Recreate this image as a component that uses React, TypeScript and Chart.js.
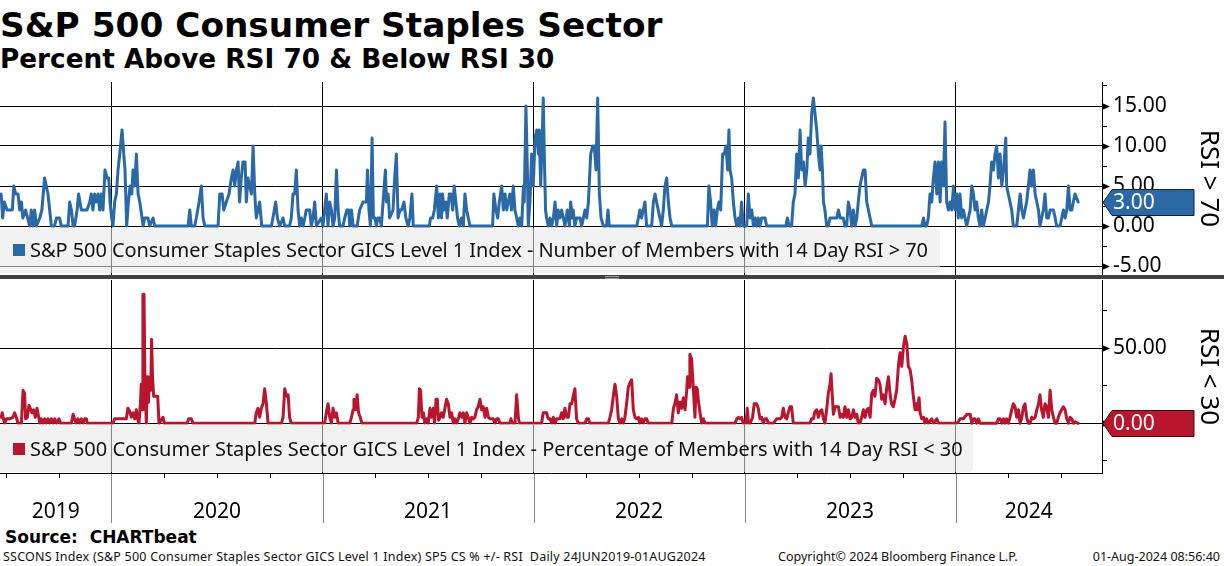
import React, { useEffect, useRef } from "react";
import { Chart, registerables } from "chart.js";

Chart.register(...registerables);

type Pt = [number, number];

// x is the date as a decimal year, y the reading
const above2019: Pt[] = [
  [2019.477, 4], [2019.484, 1], [2019.492, 3], [2019.505, 2], [2019.53, 2], [2019.537, 5], [2019.546, 4], [2019.557, 4],
  [2019.565, 2], [2019.573, 3], [2019.58, 1], [2019.593, 2], [2019.612, 0], [2019.62, 2], [2019.628, 0], [2019.636, 2],
  [2019.644, 0], [2019.66, 1], [2019.67, 2], [2019.683, 6], [2019.691, 5], [2019.699, 4], [2019.707, 2], [2019.715, 0],
  [2019.73, 0], [2019.739, 1], [2019.754, 1], [2019.762, 0], [2019.794, 0], [2019.802, 3], [2019.81, 2], [2019.818, 0],
  [2019.825, 0], [2019.837, 2], [2019.844, 4], [2019.857, 2], [2019.884, 2], [2019.897, 3], [2019.904, 4], [2019.912, 2],
  [2019.92, 4], [2019.928, 3], [2019.936, 4], [2019.944, 2], [2019.952, 4], [2019.96, 2], [2019.969, 7], [2019.979, 6],
  [2019.987, 6], [2019.993, 3],
];
const above2020: Pt[] = [
  [2020.001, 1], [2020.007, 0], [2020.015, 3], [2020.023, 4], [2020.031, 7], [2020.039, 9], [2020.05, 12], [2020.058, 9],
  [2020.064, 7], [2020.072, 0], [2020.08, 3], [2020.088, 5], [2020.096, 4], [2020.102, 7], [2020.11, 5], [2020.118, 9],
  [2020.126, 4], [2020.134, 3], [2020.15, 0], [2020.157, 1], [2020.173, 1], [2020.181, 0], [2020.197, 1], [2020.205, 0],
  [2020.363, 0], [2020.371, 2], [2020.378, 0], [2020.394, 0], [2020.402, 1], [2020.415, 3], [2020.426, 5], [2020.434, 1],
  [2020.442, 0], [2020.505, 0], [2020.513, 4], [2020.524, 4], [2020.532, 2], [2020.544, 3], [2020.557, 4], [2020.568, 6],
  [2020.576, 7], [2020.584, 5], [2020.592, 7], [2020.6, 8], [2020.607, 3], [2020.615, 6], [2020.623, 8], [2020.633, 8],
  [2020.639, 3], [2020.647, 6], [2020.655, 5], [2020.663, 4], [2020.671, 10], [2020.679, 4], [2020.686, 1], [2020.694, 2],
  [2020.702, 3], [2020.712, 0], [2020.758, 0], [2020.765, 1], [2020.778, 3], [2020.786, 1], [2020.797, 0], [2020.813, 1],
  [2020.821, 0], [2020.844, 0], [2020.852, 1], [2020.86, 4], [2020.868, 4], [2020.876, 7], [2020.884, 2], [2020.892, 0],
  [2020.9, 1], [2020.908, 0], [2020.916, 1], [2020.923, 2], [2020.939, 2], [2020.947, 0], [2020.955, 1], [2020.963, 3],
  [2020.971, 0], [2020.994, 1],
];
const above2021: Pt[] = [
  [2021.002, 0], [2021.01, 2], [2021.018, 4], [2021.026, 0], [2021.034, 3], [2021.042, 2], [2021.05, 0], [2021.058, 1],
  [2021.066, 7], [2021.074, 2], [2021.081, 0], [2021.097, 0], [2021.105, 1], [2021.116, 2], [2021.124, 2], [2021.129, 0],
  [2021.137, 2], [2021.145, 0], [2021.164, 0], [2021.176, 2], [2021.192, 3], [2021.208, 3], [2021.213, 7], [2021.22, 2],
  [2021.227, 0], [2021.235, 11], [2021.241, 1], [2021.249, 1], [2021.255, 0], [2021.263, 1], [2021.271, 1], [2021.279, 0],
  [2021.287, 3], [2021.298, 7], [2021.303, 3], [2021.311, 4], [2021.318, 1], [2021.334, 2], [2021.342, 6], [2021.35, 9],
  [2021.358, 1], [2021.367, 2], [2021.375, 2], [2021.386, 3], [2021.395, 1], [2021.406, 0], [2021.414, 1], [2021.424, 4],
  [2021.43, 0], [2021.506, 0], [2021.512, 1], [2021.522, 1], [2021.53, 2], [2021.541, 5], [2021.549, 1], [2021.557, 4],
  [2021.564, 1], [2021.569, 4], [2021.576, 2], [2021.585, 3], [2021.591, 1], [2021.601, 4], [2021.609, 4], [2021.617, 2],
  [2021.624, 5], [2021.632, 3], [2021.64, 1], [2021.648, 0], [2021.659, 1], [2021.667, 0], [2021.675, 4], [2021.683, 2],
  [2021.691, 1], [2021.699, 0], [2021.806, 0], [2021.812, 4], [2021.822, 2], [2021.83, 1], [2021.838, 3], [2021.849, 5],
  [2021.857, 2], [2021.865, 4], [2021.873, 2], [2021.88, 3], [2021.888, 4], [2021.896, 2], [2021.904, 5], [2021.912, 2],
  [2021.92, 1], [2021.928, 0], [2021.936, 1], [2021.944, 0], [2021.952, 5], [2021.956, 3], [2021.964, 15], [2021.971, 7],
  [2021.975, 0], [2021.983, 3], [2021.991, 9], [2021.999, 5],
];
const above2022: Pt[] = [
  [2022.007, 11], [2022.015, 12], [2022.023, 9], [2022.027, 12], [2022.034, 5], [2022.042, 12], [2022.046, 16], [2022.051, 9],
  [2022.057, 2], [2022.062, 1], [2022.07, 0], [2022.078, 1], [2022.086, 0], [2022.094, 1], [2022.102, 3], [2022.11, 0],
  [2022.117, 2], [2022.125, 1], [2022.133, 2], [2022.141, 1], [2022.149, 0], [2022.16, 2], [2022.17, 0], [2022.176, 3],
  [2022.184, 1], [2022.188, 2], [2022.196, 0], [2022.204, 1], [2022.22, 1], [2022.228, 0], [2022.236, 1], [2022.244, 2],
  [2022.252, 1], [2022.26, 3], [2022.271, 9], [2022.28, 10], [2022.288, 10], [2022.296, 7], [2022.304, 16], [2022.312, 4],
  [2022.32, 1], [2022.331, 0], [2022.346, 0], [2022.353, 2], [2022.359, 0], [2022.489, 0], [2022.497, 1], [2022.504, 2],
  [2022.512, 1], [2022.52, 2], [2022.528, 3], [2022.536, 0], [2022.56, 0], [2022.568, 3], [2022.576, 4], [2022.583, 3],
  [2022.591, 2], [2022.599, 1], [2022.607, 0], [2022.615, 2], [2022.623, 5], [2022.631, 6], [2022.639, 3], [2022.647, 1],
  [2022.655, 0], [2022.824, 0], [2022.831, 5], [2022.839, 3], [2022.847, 0], [2022.855, 2], [2022.863, 0], [2022.871, 2],
  [2022.879, 3], [2022.887, 2], [2022.896, 9], [2022.904, 9], [2022.912, 10], [2022.92, 7], [2022.926, 12], [2022.931, 7],
  [2022.939, 6], [2022.947, 3], [2022.955, 1], [2022.963, 0], [2022.971, 1], [2022.978, 0], [2022.986, 3], [2022.994, 0],
];
const above2023: Pt[] = [
  [2023.01, 0], [2023.018, 4], [2023.026, 1], [2023.034, 2], [2023.042, 0], [2023.05, 1], [2023.057, 0], [2023.065, 1],
  [2023.073, 0], [2023.081, 1], [2023.097, 1], [2023.105, 0], [2023.196, 0], [2023.203, 1], [2023.212, 0], [2023.223, 0],
  [2023.231, 3], [2023.239, 4], [2023.247, 9], [2023.255, 6], [2023.263, 12], [2023.271, 7], [2023.279, 8], [2023.287, 5],
  [2023.295, 7], [2023.302, 11], [2023.31, 9], [2023.318, 14], [2023.326, 16], [2023.334, 14], [2023.342, 12], [2023.35, 9],
  [2023.358, 7], [2023.363, 10], [2023.369, 7], [2023.374, 3], [2023.381, 2], [2023.389, 0], [2023.397, 0], [2023.405, 1],
  [2023.437, 1], [2023.445, 2], [2023.453, 1], [2023.468, 1], [2023.476, 0], [2023.484, 0], [2023.492, 3], [2023.5, 2],
  [2023.508, 0], [2023.516, 2], [2023.524, 0], [2023.532, 1], [2023.539, 3], [2023.547, 5], [2023.555, 6], [2023.563, 7],
  [2023.571, 7], [2023.579, 3], [2023.587, 2], [2023.595, 1], [2023.603, 0], [2023.84, 0], [2023.848, 1], [2023.855, 0],
  [2023.863, 0], [2023.871, 1], [2023.879, 4], [2023.887, 3], [2023.895, 6], [2023.903, 8], [2023.911, 4], [2023.919, 8],
  [2023.927, 3], [2023.934, 8], [2023.942, 5], [2023.95, 13], [2023.958, 3], [2023.966, 2], [2023.974, 3], [2023.982, 2],
  [2023.99, 5], [2023.998, 2],
];
const above2024: Pt[] = [
  [2024.006, 4], [2024.013, 1], [2024.021, 4], [2024.029, 1], [2024.037, 2], [2024.045, 1], [2024.053, 0], [2024.061, 1],
  [2024.069, 2], [2024.077, 5], [2024.085, 4], [2024.092, 2], [2024.1, 3], [2024.108, 1], [2024.116, 0], [2024.124, 2],
  [2024.132, 0], [2024.14, 1], [2024.148, 2], [2024.156, 3], [2024.163, 5], [2024.171, 8], [2024.179, 7], [2024.187, 9],
  [2024.195, 10], [2024.203, 6], [2024.211, 9], [2024.219, 5], [2024.227, 7], [2024.238, 11], [2024.242, 5], [2024.25, 4],
  [2024.258, 3], [2024.266, 2], [2024.274, 0], [2024.29, 0], [2024.298, 2], [2024.306, 4], [2024.314, 2], [2024.322, 1],
  [2024.329, 2], [2024.337, 3], [2024.345, 5], [2024.353, 7], [2024.361, 5], [2024.369, 7], [2024.377, 4], [2024.385, 3],
  [2024.393, 2], [2024.4, 0], [2024.408, 1], [2024.416, 2], [2024.424, 4], [2024.432, 1], [2024.44, 1], [2024.448, 2],
  [2024.464, 2], [2024.472, 1], [2024.479, 0], [2024.495, 0], [2024.503, 1], [2024.511, 2], [2024.519, 1], [2024.527, 2],
  [2024.535, 5], [2024.543, 2], [2024.551, 2], [2024.558, 3], [2024.566, 4], [2024.581, 3],
];

const below2019: Pt[] = [
  [2019.477, 4], [2019.482, 7], [2019.488, 3], [2019.494, 0], [2019.502, 3], [2019.517, 3], [2019.533, 4], [2019.541, 7],
  [2019.549, 4], [2019.557, 0], [2019.573, 0], [2019.581, 22], [2019.588, 20], [2019.593, 3], [2019.601, 4], [2019.609, 12],
  [2019.615, 10], [2019.623, 7], [2019.631, 9], [2019.639, 4], [2019.647, 10], [2019.655, 4], [2019.66, 0], [2019.667, 3],
  [2019.675, 0], [2019.683, 3], [2019.691, 0], [2019.699, 3], [2019.707, 0], [2019.715, 3], [2019.723, 0], [2019.731, 3],
  [2019.739, 0], [2019.751, 3], [2019.758, 0], [2019.81, 0], [2019.818, 6], [2019.825, 3], [2019.833, 0], [2019.841, 3],
  [2019.849, 0], [2019.857, 3], [2019.865, 0], [2019.873, 3], [2019.881, 3], [2019.885, 0],
];
const below2020: Pt[] = [
  [2020.007, 0], [2020.015, 3], [2020.07, 3], [2020.078, 10], [2020.086, 8], [2020.094, 4], [2020.102, 7], [2020.11, 3],
  [2020.118, 9], [2020.122, 4], [2020.13, 0], [2020.137, 13], [2020.141, 26], [2020.146, 9], [2020.149, 86], [2020.154, 86],
  [2020.159, 24], [2020.165, 0], [2020.17, 31], [2020.175, 14], [2020.181, 31], [2020.186, 22], [2020.19, 56], [2020.195, 29],
  [2020.2, 18], [2020.206, 18], [2020.212, 18], [2020.219, 18], [2020.225, 0], [2020.244, 4], [2020.25, 0], [2020.358, 0],
  [2020.366, 3], [2020.378, 3], [2020.386, 0], [2020.679, 0], [2020.686, 7], [2020.694, 10], [2020.702, 4], [2020.71, 10],
  [2020.718, 13], [2020.726, 23], [2020.734, 13], [2020.742, 0], [2020.805, 0], [2020.813, 4], [2020.821, 23], [2020.829, 18],
  [2020.837, 19], [2020.844, 4], [2020.852, 0],
];
const below2021: Pt[] = [
  [2021.01, 0], [2021.018, 7], [2021.026, 13], [2021.034, 4], [2021.042, 0], [2021.05, 10], [2021.058, 4], [2021.066, 7],
  [2021.074, 0], [2021.129, 0], [2021.137, 4], [2021.145, 9], [2021.149, 16], [2021.156, 9], [2021.164, 19], [2021.171, 7],
  [2021.179, 4], [2021.187, 0], [2021.446, 0], [2021.454, 4], [2021.459, 23], [2021.465, 22], [2021.471, 4], [2021.478, 7],
  [2021.485, 0], [2021.493, 3], [2021.501, 0], [2021.509, 10], [2021.517, 4], [2021.525, 10], [2021.531, 0], [2021.538, 16],
  [2021.544, 16], [2021.55, 2], [2021.557, 4], [2021.564, 7], [2021.572, 4], [2021.58, 10], [2021.588, 16], [2021.596, 13],
  [2021.604, 4], [2021.612, 7], [2021.62, 0], [2021.628, 3], [2021.636, 0], [2021.643, 3], [2021.651, 7], [2021.659, 4],
  [2021.667, 7], [2021.675, 0], [2021.683, 7], [2021.691, 4], [2021.699, 0], [2021.707, 4], [2021.715, 3], [2021.722, 4],
  [2021.73, 9], [2021.738, 11], [2021.746, 16], [2021.754, 9], [2021.762, 11], [2021.77, 4], [2021.778, 10], [2021.786, 4],
  [2021.794, 3], [2021.809, 3], [2021.817, 0], [2021.825, 3], [2021.833, 3], [2021.841, 0], [2021.888, 0], [2021.893, 3],
  [2021.899, 0], [2021.912, 0], [2021.92, 19], [2021.928, 4], [2021.933, 0],
];
const below2022: Pt[] = [
  [2022.038, 0], [2022.046, 7], [2022.062, 7], [2022.07, 3], [2022.078, 3], [2022.086, 0], [2022.094, 4], [2022.102, 0],
  [2022.11, 3], [2022.125, 3], [2022.133, 7], [2022.141, 3], [2022.149, 10], [2022.157, 4], [2022.165, 4], [2022.173, 13],
  [2022.181, 13], [2022.188, 18], [2022.196, 23], [2022.204, 3], [2022.212, 0], [2022.244, 0], [2022.252, 3], [2022.26, 3],
  [2022.267, 0], [2022.354, 0], [2022.362, 4], [2022.37, 9], [2022.378, 18], [2022.386, 26], [2022.394, 18], [2022.402, 3],
  [2022.41, 0], [2022.418, 3], [2022.425, 0], [2022.433, 4], [2022.441, 13], [2022.449, 24], [2022.457, 27], [2022.465, 29],
  [2022.473, 9], [2022.481, 4], [2022.489, 3], [2022.497, 4], [2022.504, 0], [2022.512, 3], [2022.52, 0], [2022.528, 3],
  [2022.536, 3], [2022.544, 0], [2022.655, 0], [2022.663, 10], [2022.67, 13], [2022.678, 19], [2022.686, 7], [2022.694, 14],
  [2022.702, 10], [2022.71, 17], [2022.718, 9], [2022.726, 22], [2022.73, 31], [2022.737, 24], [2022.741, 46], [2022.749, 43],
  [2022.757, 24], [2022.765, 4], [2022.77, 24], [2022.776, 23], [2022.783, 13], [2022.789, 7], [2022.797, 0], [2022.805, 3],
  [2022.813, 0], [2022.955, 0], [2022.963, 3], [2022.971, 4], [2022.978, 3], [2022.986, 4], [2022.994, 0],
];
const below2023: Pt[] = [
  [2023.007, 0], [2023.013, 10], [2023.019, 0], [2023.026, 0], [2023.038, 4], [2023.046, 13], [2023.057, 13], [2023.065, 10],
  [2023.073, 3], [2023.081, 4], [2023.089, 0], [2023.097, 3], [2023.105, 3], [2023.113, 0], [2023.136, 0], [2023.152, 3],
  [2023.168, 3], [2023.176, 4], [2023.184, 10], [2023.192, 4], [2023.2, 3], [2023.207, 7], [2023.215, 11], [2023.223, 11],
  [2023.231, 0], [2023.31, 0], [2023.318, 3], [2023.326, 3], [2023.334, 8], [2023.342, 9], [2023.35, 4], [2023.358, 8],
  [2023.366, 9], [2023.374, 3], [2023.381, 0], [2023.389, 9], [2023.397, 20], [2023.405, 26], [2023.41, 33], [2023.416, 18],
  [2023.421, 6], [2023.429, 11], [2023.437, 11], [2023.445, 11], [2023.453, 4], [2023.46, 6], [2023.468, 4], [2023.476, 11],
  [2023.484, 4], [2023.492, 9], [2023.5, 3], [2023.508, 4], [2023.516, 9], [2023.524, 4], [2023.532, 6], [2023.539, 0],
  [2023.547, 0], [2023.555, 4], [2023.563, 9], [2023.571, 4], [2023.579, 9], [2023.587, 10], [2023.595, 4], [2023.603, 20],
  [2023.611, 22], [2023.618, 18], [2023.626, 30], [2023.634, 29], [2023.642, 26], [2023.65, 16], [2023.658, 19], [2023.666, 13],
  [2023.674, 24], [2023.682, 31], [2023.69, 19], [2023.697, 13], [2023.705, 11], [2023.713, 16], [2023.721, 22], [2023.729, 38],
  [2023.737, 47], [2023.745, 38], [2023.753, 51], [2023.761, 58], [2023.769, 53], [2023.776, 38], [2023.784, 36], [2023.792, 29],
  [2023.8, 18], [2023.808, 9], [2023.813, 13], [2023.819, 9], [2023.827, 17], [2023.832, 7], [2023.84, 3], [2023.848, 4],
  [2023.855, 0], [2023.863, 3], [2023.871, 0], [2023.887, 3], [2023.895, 0], [2023.911, 3], [2023.919, 0],
];
const below2024: Pt[] = [
  [2024.005, 0], [2024.013, 1], [2024.021, 3], [2024.037, 3], [2024.053, 6], [2024.069, 6], [2024.077, 0], [2024.085, 3],
  [2024.092, 3], [2024.1, 0], [2024.108, 3], [2024.116, 0], [2024.195, 0], [2024.203, 3], [2024.211, 3], [2024.219, 0],
  [2024.227, 3], [2024.234, 0], [2024.242, 3], [2024.25, 0], [2024.258, 4], [2024.266, 9], [2024.274, 13], [2024.282, 11],
  [2024.29, 4], [2024.298, 9], [2024.306, 0], [2024.314, 4], [2024.322, 11], [2024.329, 13], [2024.337, 4], [2024.345, 0],
  [2024.353, 0], [2024.361, 4], [2024.369, 3], [2024.377, 4], [2024.385, 9], [2024.393, 13], [2024.4, 19], [2024.408, 9],
  [2024.416, 4], [2024.424, 13], [2024.432, 11], [2024.44, 4], [2024.448, 22], [2024.456, 9], [2024.464, 4], [2024.472, 0],
  [2024.479, 0], [2024.487, 4], [2024.495, 7], [2024.503, 9], [2024.511, 11], [2024.519, 9], [2024.527, 3], [2024.535, 0],
  [2024.543, 4], [2024.551, 3], [2024.558, 0], [2024.566, 1], [2024.581, 0],
];

const aboveSeries = [...above2019, ...above2020, ...above2021, ...above2022, ...above2023, ...above2024];
const belowSeries = [...below2019, ...below2020, ...below2021, ...below2022, ...below2023, ...below2024];

const X_MIN = 2019.4716;
const X_MAX = 2024.694;
const yearLines = [2020, 2021, 2022, 2023, 2024];
const quarterTicks = [
  2019.5, 2019.75, 2020.25, 2020.5, 2020.75, 2021.25, 2021.5, 2021.75, 2022.25, 2022.5, 2022.75,
  2023.25, 2023.5, 2023.75, 2024.25, 2024.5,
];
const aboveTicks = [-5, -2.5, 0, 2.5, 5, 7.5, 10, 12.5, 15, 17.5];
const aboveMajor = [-5, 0, 5, 10, 15];
const belowTicks = [-25, 0, 25, 50, 75];
const belowMajor = [0, 50];

const aboveLabel = "S&P 500 Consumer Staples Sector GICS Level 1 Index - Number of Members with 14 Day RSI > 70";
const belowLabel = "S&P 500 Consumer Staples Sector GICS Level 1 Index - Percentage of Members with 14 Day RSI < 30";

const BLUE = "#2b69a6";
const RED = "#b8162e";
const AXIS_W = 122;
const FONT = "'Noto Sans', sans-serif";

// year labels sit in the middle of the visible part of each year
const bounds = [X_MIN, ...yearLines, X_MAX];
const labelTicks = bounds.slice(0, -1).map((b, i) => (b + bounds[i + 1]) / 2);
const bottomXTicks = [...yearLines, ...labelTicks].sort((a, b) => a - b);

function rightAxisMarks(major: number[], fill: string, edge: string) {
  return {
    id: "rightAxisMarks",
    afterDraw(chart: Chart) {
      const { ctx, chartArea } = chart;
      const ys = chart.scales.y;
      const x0 = chartArea.right;
      ctx.save();
      ctx.fillStyle = "#000";
      major.forEach((v) => {
        const py = Math.round(ys.getPixelForValue(v)) + 0.5;
        ctx.beginPath();
        ctx.moveTo(x0, py - 3.5);
        ctx.lineTo(x0 + 8, py);
        ctx.lineTo(x0, py + 3.5);
        ctx.closePath();
        ctx.fill();
      });
      const pts = chart.data.datasets[0].data as { x: number; y: number }[];
      const last = pts[pts.length - 1];
      const py = Math.round(ys.getPixelForValue(last.y)) + 0.5;
      ctx.beginPath();
      ctx.moveTo(x0 + 1, py);
      ctx.lineTo(x0 + 10, py - 13);
      ctx.lineTo(x0 + 92, py - 13);
      ctx.lineTo(x0 + 92, py + 13);
      ctx.lineTo(x0 + 10, py + 13);
      ctx.closePath();
      ctx.fillStyle = fill;
      ctx.fill();
      ctx.strokeStyle = edge;
      ctx.lineWidth = 1;
      ctx.stroke();
      ctx.fillStyle = "#fff";
      ctx.font = `21px ${FONT}`;
      ctx.textAlign = "left";
      ctx.textBaseline = "middle";
      ctx.fillText(last.y.toFixed(2), x0 + 11, py + 1);
      ctx.restore();
    },
  };
}

const bottomAxisMarks = {
  id: "bottomAxisMarks",
  afterDraw(chart: Chart) {
    const { ctx, chartArea } = chart;
    const xs = chart.scales.x;
    ctx.save();
    ctx.lineWidth = 1;
    ctx.strokeStyle = "#8a8a8a";
    ctx.beginPath();
    yearLines.forEach((v) => {
      const px = Math.round(xs.getPixelForValue(v)) + 0.5;
      ctx.moveTo(px, chartArea.bottom + 1);
      ctx.lineTo(px, chart.height);
    });
    ctx.stroke();
    ctx.strokeStyle = "#000";
    ctx.beginPath();
    quarterTicks.forEach((v) => {
      const px = Math.round(xs.getPixelForValue(v)) + 0.5;
      ctx.moveTo(px, chartArea.bottom);
      ctx.lineTo(px, chartArea.bottom + 5);
    });
    ctx.stroke();
    ctx.restore();
  },
};

function panel(opts: {
  series: Pt[];
  color: string;
  edge: string;
  ticks: number[];
  major: number[];
  min: number;
  max: number;
  title: string;
  withDates: boolean;
}): any {
  const xAxis = opts.withDates
    ? {
        type: "linear",
        min: X_MIN,
        max: X_MAX,
        afterBuildTicks: (s: any) => {
          s.ticks = bottomXTicks.map((v) => ({ value: v }));
        },
        afterFit: (s: any) => {
          s.height = 50;
          s.paddingLeft = 0;
          s.paddingRight = 0;
        },
        grid: {
          color: (c: any) => (yearLines.includes(c.tick?.value) ? "#000" : "rgba(0,0,0,0)"),
          drawTicks: false,
        },
        border: { color: "#000", width: 1 },
        ticks: {
          autoSkip: false,
          maxRotation: 0,
          padding: 26,
          color: "#000",
          font: { family: FONT, size: 21 },
          callback: (v: number) => (labelTicks.includes(v) ? String(Math.floor(v)) : ""),
        },
      }
    : {
        type: "linear",
        min: X_MIN,
        max: X_MAX,
        afterBuildTicks: (s: any) => {
          s.ticks = yearLines.map((v) => ({ value: v }));
        },
        afterFit: (s: any) => {
          s.height = 0;
          s.paddingLeft = 0;
          s.paddingRight = 0;
        },
        grid: { color: "#000", drawTicks: false },
        border: { display: false },
        ticks: { display: false },
      };

  return {
    type: "line",
    data: {
      datasets: [
        {
          data: opts.series.map(([x, y]) => ({ x, y })),
          borderColor: opts.color,
          borderWidth: 3,
          borderJoinStyle: "round",
          borderCapStyle: "round",
          pointRadius: 0,
          tension: 0,
          fill: false,
        },
      ],
    },
    options: {
      animation: false,
      responsive: false,
      events: [],
      layout: { padding: { top: opts.withDates ? 1 : 0, left: 0, right: 0, bottom: 0 } },
      plugins: { legend: { display: false }, tooltip: { enabled: false }, title: { display: false } },
      scales: {
        x: xAxis,
        y: {
          type: "linear",
          position: "right",
          min: opts.min,
          max: opts.max,
          afterBuildTicks: (s: any) => {
            s.ticks = opts.ticks.map((v) => ({ value: v }));
          },
          afterFit: (s: any) => {
            s.width = AXIS_W;
            s.paddingTop = 0;
            s.paddingBottom = 0;
          },
          grid: {
            color: (c: any) => (opts.major.includes(c.tick?.value) ? "#000" : "rgba(0,0,0,0)"),
            tickLength: 5,
            tickColor: "#000",
          },
          border: { color: "#000", width: 1 },
          ticks: {
            autoSkip: false,
            padding: 6,
            color: "#000",
            font: { family: FONT, size: 21 },
            callback: (v: number) => (opts.major.includes(Number(v)) ? Number(v).toFixed(2) : ""),
          },
          title: {
            display: true,
            text: opts.title,
            color: "#000",
            font: { family: FONT, size: 26 },
            padding: 0,
          },
        },
      },
    },
    plugins: opts.withDates
      ? [bottomAxisMarks, rightAxisMarks(opts.major, opts.color, opts.edge)]
      : [rightAxisMarks(opts.major, opts.color, opts.edge)],
  };
}

const abs = (s: React.CSSProperties): React.CSSProperties => ({
  position: "absolute",
  margin: 0,
  whiteSpace: "pre",
  ...s,
});

export default function App() {
  const topRef = useRef<HTMLCanvasElement | null>(null);
  const bottomRef = useRef<HTMLCanvasElement | null>(null);

  useEffect(() => {
    document.body.style.margin = "0";
    if (!topRef.current || !bottomRef.current) return;
    const top = new Chart(
      topRef.current,
      panel({
        series: aboveSeries,
        color: BLUE,
        edge: "#0b2340",
        ticks: aboveTicks,
        major: aboveMajor,
        min: -6.125,
        max: 18,
        title: "RSI > 70",
        withDates: false,
      })
    );
    const bottom = new Chart(
      bottomRef.current,
      panel({
        series: belowSeries,
        color: RED,
        edge: "#3a0a10",
        ticks: belowTicks,
        major: belowMajor,
        min: -33.13,
        max: 95.53,
        title: "RSI < 30",
        withDates: true,
      })
    );
    return () => {
      top.destroy();
      bottom.destroy();
    };
  }, []);

  const legendText: React.CSSProperties = {
    fontFamily: FONT,
    fontSize: 20,
    lineHeight: "20px",
    color: "#111",
  };
  const footer: React.CSSProperties = {
    top: 551,
    fontSize: 12.5,
    lineHeight: "12.5px",
    color: "#111",
  };

  return (
    <div
      style={{
        position: "relative",
        width: 1224,
        height: 566,
        background: "#fff",
        overflow: "hidden",
        fontFamily: FONT,
        color: "#000",
      }}
    >
      <div style={abs({ left: 0, top: 7.7, font: "bold 34.3px 'DejaVu Sans'", lineHeight: "34.3px" })}>
        {"S&P 500 Consumer Staples Sector"}
      </div>
      <div style={abs({ left: 0, top: 46, font: "bold 26.3px 'DejaVu Sans'", lineHeight: "26.3px" })}>
        {"Percent Above RSI 70 & Below RSI 30"}
      </div>

      <canvas ref={topRef} width={1224} height={193} style={abs({ left: 0, top: 82 })} />
      <div style={abs({ left: 0, top: 275, width: 1224, height: 4, background: "#414141" })} />
      <div style={abs({ left: 605, top: 276, width: 14, height: 1, background: "#9a9a9a" })} />
      <div style={abs({ left: 605, top: 278, width: 14, height: 1, background: "#9a9a9a" })} />
      <canvas ref={bottomRef} width={1224} height={244} style={abs({ left: 0, top: 279 })} />

      <div
        style={abs({
          left: 0,
          top: 228,
          width: 940,
          height: 45,
          background: "rgba(232,232,232,0.56)",
          borderRadius: "0 5px 5px 0",
        })}
      >
        <span style={abs({ left: 13, top: 16, width: 12, height: 12, background: BLUE })} />
        <span style={abs({ left: 30, top: 12, ...legendText, letterSpacing: "-0.07px" })}>{aboveLabel}</span>
      </div>
      <div
        style={abs({
          left: 0,
          top: 424,
          width: 973,
          height: 48,
          background: "rgba(232,232,232,0.56)",
          borderRadius: "0 5px 5px 0",
        })}
      >
        <span style={abs({ left: 13, top: 19, width: 12, height: 12, background: RED })} />
        <span style={abs({ left: 30, top: 15, ...legendText })}>{belowLabel}</span>
      </div>

      <div style={abs({ left: 5, top: 529, font: "bold 17px 'DejaVu Sans'", lineHeight: "17px" })}>
        {"Source:  CHARTbeat"}
      </div>
      <div style={abs({ left: 3, ...footer, letterSpacing: "0.22px" })}>
        {"SSCONS Index (S&P 500 Consumer Staples Sector GICS Level 1 Index) SP5 CS % +/- RSI  Daily 24JUN2019-01AUG2024"}
      </div>
      <div style={abs({ left: 778, ...footer })}>{"Copyright\u00a9 2024 Bloomberg Finance L.P."}</div>
      <div style={abs({ right: 4, ...footer })}>{"01-Aug-2024 08:56:40"}</div>
    </div>
  );
}
